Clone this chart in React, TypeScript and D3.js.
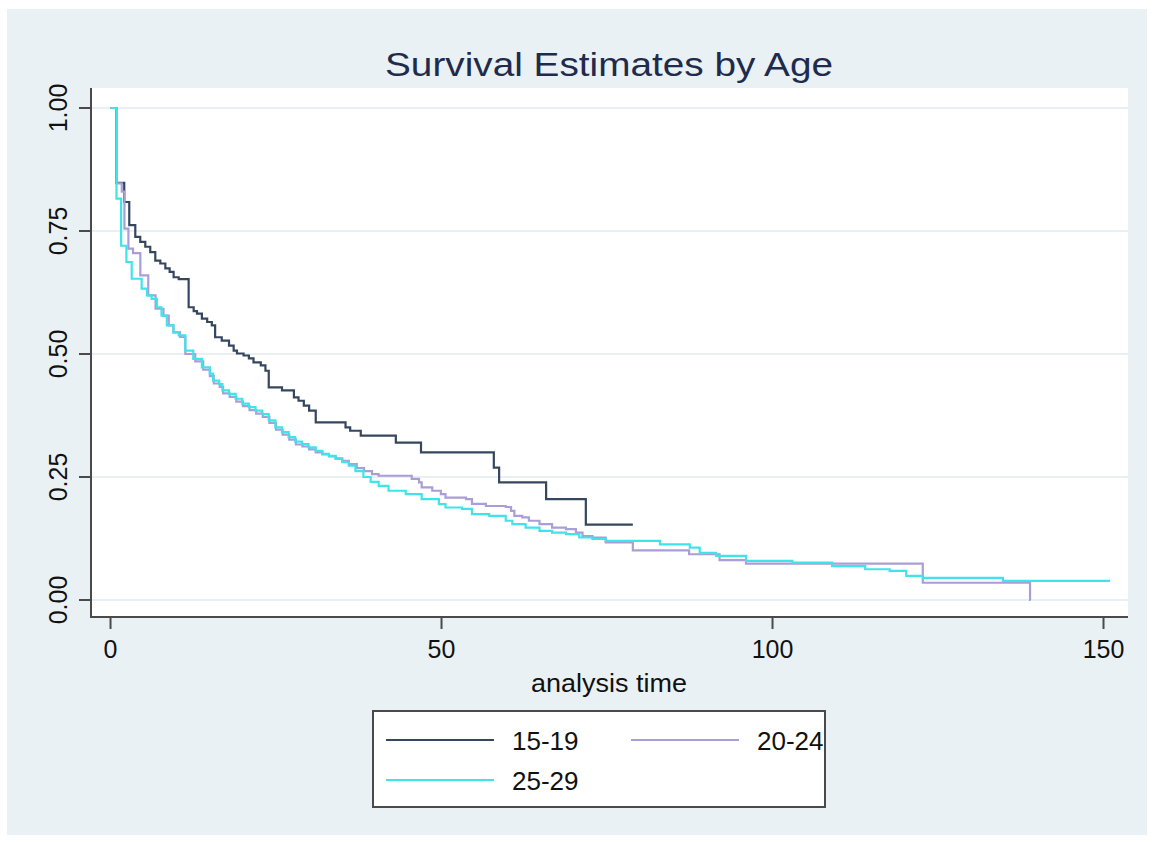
import React from 'react';
import * as d3 from 'd3';

// Kaplan-Meier step points: [analysis time, survival]
const age1519: [number, number][] = [
  [0, 1], [0.86, 0.848], [2.07, 0.809], [2.83, 0.762], [3.74, 0.738], [4.49, 0.728], [5.25, 0.718],
  [6.0, 0.707], [6.76, 0.69], [7.52, 0.684], [8.28, 0.674], [8.93, 0.667], [9.53, 0.656], [10.3, 0.652],
  [11.8, 0.595], [12.56, 0.587], [13.06, 0.582], [13.8, 0.572], [14.6, 0.565], [15.3, 0.558], [15.8, 0.534],
  [16.8, 0.527], [17.9, 0.517], [18.6, 0.507], [19.1, 0.501], [20.1, 0.497], [20.9, 0.491], [21.6, 0.483],
  [22.7, 0.477], [23.4, 0.466], [23.9, 0.432], [25.9, 0.426], [27.7, 0.412], [28.4, 0.405], [29.2, 0.395],
  [30, 0.385], [31, 0.361], [35.5, 0.351], [36.2, 0.344], [37.8, 0.334], [43.1, 0.32], [46.9, 0.3],
  [57.9, 0.269], [58.7, 0.239], [65.8, 0.205], [71.8, 0.153], [78.9, 0.153],
];

const age2024: [number, number][] = [
  [0, 1], [0.9, 0.847], [1.7, 0.83], [2.1, 0.755], [2.7, 0.714], [3.4, 0.705], [4.5, 0.66], [5.7, 0.619],
  [6.8, 0.592], [8, 0.578], [8.8, 0.558], [9.5, 0.544], [10.5, 0.535], [11.3, 0.5], [12.8, 0.485],
  [14, 0.468], [15, 0.455], [15.6, 0.44], [16.5, 0.433], [17, 0.42], [18, 0.413], [19, 0.403], [20, 0.394],
  [21, 0.386], [22, 0.379], [23, 0.372], [24, 0.36], [25, 0.346], [26, 0.336], [27, 0.326], [28, 0.316],
  [29, 0.312], [30, 0.306], [31, 0.3], [32, 0.296], [33, 0.292], [34, 0.288], [35, 0.283], [36, 0.276],
  [37.2, 0.268], [38.3, 0.262], [39.5, 0.256], [40.5, 0.2525], [45.5, 0.246], [46.6, 0.239], [47, 0.229],
  [48.6, 0.222], [49.9, 0.215], [50.6, 0.208], [53.7, 0.205], [54.6, 0.1955], [56.7, 0.191], [59.7, 0.189],
  [60.5, 0.181], [61, 0.171], [62.2, 0.168], [63.2, 0.161], [64.8, 0.154], [66.7, 0.147], [68.8, 0.144],
  [70.3, 0.137], [71.3, 0.13], [72.8, 0.127], [74.8, 0.117], [78.9, 0.101], [87.4, 0.093], [92, 0.081],
  [96, 0.074], [122.7, 0.035], [138.9, 0], [139, 0],
];

const age2529: [number, number][] = [
  [0, 1], [0.9, 0.816], [1.6, 0.72], [2.4, 0.687], [3.2, 0.653], [4.7, 0.633], [5.5, 0.619], [6.2, 0.612],
  [7, 0.595], [7.7, 0.578], [8.5, 0.558], [9.5, 0.544], [10.3, 0.538], [11.3, 0.507], [12.5, 0.49],
  [13.8, 0.473], [15, 0.46], [15.5, 0.446], [16.4, 0.439], [16.9, 0.426], [17.9, 0.419], [18.9, 0.409],
  [19.9, 0.399], [20.9, 0.392], [21.9, 0.385], [22.9, 0.378], [23.9, 0.365], [24.9, 0.351], [25.9, 0.341],
  [26.9, 0.331], [27.9, 0.322], [28.9, 0.317], [29.9, 0.31], [31, 0.303], [32, 0.297], [33, 0.293],
  [34, 0.287], [35, 0.28], [36, 0.273], [37, 0.262], [38.2, 0.25], [39.3, 0.24], [40.5, 0.232], [42, 0.222],
  [44.6, 0.215], [47, 0.205], [49.6, 0.195], [50.6, 0.188], [53.1, 0.185], [54.6, 0.1745], [57.2, 0.171],
  [59.7, 0.161], [60.7, 0.154], [62.7, 0.147], [64.8, 0.1405], [66.7, 0.137], [68.8, 0.134], [70.8, 0.127],
  [72.8, 0.124], [74.8, 0.12], [83, 0.113], [87.5, 0.1065], [89, 0.096], [91.5, 0.0896], [96, 0.0794],
  [103, 0.0758], [109, 0.069], [114, 0.0625], [117.7, 0.059], [120.2, 0.049], [122.7, 0.045],
  [134.8, 0.0387], [151, 0.0387],
];

const xTicks = [0, 50, 100, 150];
const yTicks = [0, 0.25, 0.5, 0.75, 1];

const series = [
  { name: '15-19', data: age1519, color: '#34475f' },
  { name: '20-24', data: age2024, color: '#a99ed8' },
  { name: '25-29', data: age2529, color: '#3fe3ea' },
];

const W = 1154;
const H = 842;
const plot = { left: 91, right: 1128, top: 88, bottom: 617 };
const font = '"Liberation Sans", Arial, Helvetica, sans-serif';

export default function App() {
  const x = d3.scaleLinear().domain([-2.95, 153.7]).range([plot.left, plot.right]);
  const y = d3.scaleLinear().domain([-0.0346, 1.0407]).range([plot.bottom, plot.top]);

  const line = d3
    .line<[number, number]>()
    .x((d) => x(d[0]))
    .y((d) => y(d[1]))
    .curve(d3.curveStepAfter);

  // legend layout
  const lg = { x: 373, y: 711, w: 452, h: 96 };
  const legendPos = [
    { lx: 386, ly: 740 },
    { lx: 631, ly: 740 },
    { lx: 386, ly: 780 },
  ];

  return (
    <svg
      width={W}
      height={H}
      style={{ position: 'absolute', left: 0, top: 0, background: '#fff' }}
      fontFamily={font}
    >
      <rect x={7} y={9} width={1140} height={826} fill="#eaf1f4" />
      <rect x={plot.left} y={plot.top} width={plot.right - plot.left} height={plot.bottom - plot.top} fill="#fff" />

      {yTicks.map((t) => (
        <line key={'g' + t} x1={plot.left} x2={plot.right} y1={y(t)} y2={y(t)} stroke="#e9eff3" strokeWidth={2} />
      ))}

      <text
        x={609}
        y={76}
        textAnchor="middle"
        fontSize={33}
        fill="#1f2b4c"
        textLength={448}
        lengthAdjust="spacingAndGlyphs"
      >
        Survival Estimates by Age
      </text>

      {series.map((s) => (
        <path key={s.name} d={line(s.data) || ''} fill="none" stroke={s.color} strokeWidth={2.2} />
      ))}

      {/* axes */}
      <line x1={plot.left} x2={plot.left} y1={plot.top} y2={plot.bottom + 1} stroke="#4a4a4a" strokeWidth={2} />
      <line x1={plot.left - 1} x2={plot.right} y1={plot.bottom} y2={plot.bottom} stroke="#4a4a4a" strokeWidth={2} />

      {yTicks.map((t) => (
        <g key={'y' + t}>
          <line x1={plot.left - 12} x2={plot.left} y1={y(t)} y2={y(t)} stroke="#4a4a4a" strokeWidth={2} />
          <text
            transform={`translate(${plot.left - 24},${y(t)}) rotate(-90)`}
            textAnchor="middle"
            fontSize={25}
            fill="#111"
          >
            {d3.format('.2f')(t)}
          </text>
        </g>
      ))}

      {xTicks.map((t) => (
        <g key={'x' + t}>
          <line x1={x(t)} x2={x(t)} y1={plot.bottom} y2={plot.bottom + 12} stroke="#4a4a4a" strokeWidth={2} />
          <text x={x(t)} y={658} textAnchor="middle" fontSize={25} fill="#111">
            {t}
          </text>
        </g>
      ))}

      <text
        x={609}
        y={692}
        textAnchor="middle"
        fontSize={25}
        fill="#111"
        textLength={156}
        lengthAdjust="spacingAndGlyphs"
      >
        analysis time
      </text>

      {/* legend */}
      <rect x={lg.x} y={lg.y} width={lg.w} height={lg.h} fill="#fff" stroke="#4a4a4a" strokeWidth={2} />
      {series.map((s, i) => (
        <g key={'l' + s.name}>
          <line
            x1={legendPos[i].lx}
            x2={legendPos[i].lx + 108}
            y1={legendPos[i].ly}
            y2={legendPos[i].ly}
            stroke={s.color}
            strokeWidth={2.2}
          />
          <text x={legendPos[i].lx + 126} y={legendPos[i].ly + 10} fontSize={26} fill="#111">
            {s.name}
          </text>
        </g>
      ))}
    </svg>
  );
}
